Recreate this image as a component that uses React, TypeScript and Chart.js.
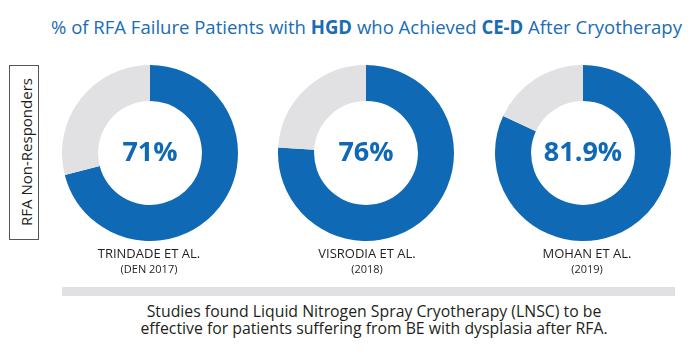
import React, { useEffect, useLayoutEffect, useRef, useState } from "react";
import { Chart, registerables } from "chart.js";

Chart.register(...registerables);

// ---- data ----
const studies = ["TRINDADE ET AL.", "VISRODIA ET AL.", "MOHAN ET AL."];
const years = ["(DEN 2017)", "(2018)", "(2019)"];
const achieved = [71, 76, 81.9];
const valueLabels = ["71%", "76%", "81.9%"];
const totals = [100, 100, 100];

const BLUE = "#0f69b4";
const GRAY = "#e1e1e3";
const TITLE_BLUE = "#1a6cb5";
const TEXT = "#231f20";
const FONT = "'Open Sans', sans-serif";

// layout
const centersX = [150, 366, 583];
const labelX = [149, 367, 587];
const centerY = 153;
const SIZE = 176;

const baselineTop = (fs: number, baseline: number) => baseline - 0.888 * fs;

function Donut({ value, total }: { value: number; total: number }) {
  const ref = useRef<HTMLCanvasElement | null>(null);
  useEffect(() => {
    if (!ref.current) return;
    const chart = new Chart(ref.current, {
      type: "doughnut",
      data: {
        labels: ["Achieved", "Not achieved"],
        datasets: [
          {
            data: [value, total - value],
            backgroundColor: [BLUE, GRAY],
            borderWidth: 0,
          },
        ],
      },
      options: {
        responsive: false,
        animation: false,
        cutout: "59%",
        events: [],
        layout: { padding: 0 },
        plugins: { legend: { display: false }, tooltip: { enabled: false } },
      },
    });
    return () => chart.destroy();
  }, [value, total]);
  return <canvas ref={ref} width={SIZE} height={SIZE} style={{ width: SIZE, height: SIZE, display: "block" }} />;
}

function FitTitle() {
  const ref = useRef<HTMLDivElement | null>(null);
  const [scale, setScale] = useState(1);
  const target = 631;
  useLayoutEffect(() => {
    if (!ref.current) return;
    const w = ref.current.getBoundingClientRect().width;
    if (w > 0) setScale(target / w);
  }, []);
  const fs = 19;
  return (
    <div
      ref={ref}
      style={{
        position: "absolute",
        left: 51,
        top: baselineTop(fs, 35),
        fontSize: fs,
        lineHeight: `${fs}px`,
        fontFamily: FONT,
        color: TITLE_BLUE,
        whiteSpace: "nowrap",
        transform: `scaleX(${scale})`,
        transformOrigin: "left top",
      }}
    >
      % of RFA Failure Patients with <b>HGD</b> who Achieved <b>CE-D</b> After Cryotherapy
    </div>
  );
}

export default function App() {
  return (
    <div
      style={{
        position: "absolute",
        left: 0,
        top: 0,
        width: 700,
        height: 363,
        background: "#fff",
        fontFamily: FONT,
        overflow: "hidden",
      }}
    >
      <FitTitle />

      {/* left box */}
      <div
        style={{
          position: "absolute",
          left: 9,
          top: 65,
          width: 30,
          height: 175,
          border: "1px solid #555",
          boxSizing: "border-box",
        }}
      />
      <div
        style={{
          position: "absolute",
          left: 25.7,
          top: 151.5,
          fontSize: 15,
          lineHeight: "15px",
          color: TEXT,
          whiteSpace: "nowrap",
          transform: "translate(-50%, -50%) rotate(-90deg)",
        }}
      >
        RFA Non-Responders
      </div>

      {achieved.map((v, i) => (
        <React.Fragment key={i}>
          <div style={{ position: "absolute", left: centersX[i] - SIZE / 2, top: centerY - SIZE / 2 }}>
            <Donut value={v} total={totals[i]} />
          </div>
          <div
            style={{
              position: "absolute",
              left: centersX[i],
              top: baselineTop(27, 161),
              fontSize: 27,
              lineHeight: "27px",
              fontWeight: 700,
              color: BLUE,
              whiteSpace: "nowrap",
              transform: "translateX(-50%)",
            }}
          >
            {valueLabels[i]}
          </div>
          <div
            style={{
              position: "absolute",
              left: labelX[i],
              top: baselineTop(13, 259),
              fontSize: 13,
              lineHeight: "13px",
              color: TEXT,
              whiteSpace: "nowrap",
              transform: "translateX(-50%)",
            }}
          >
            {studies[i]}
          </div>
          <div
            style={{
              position: "absolute",
              left: labelX[i],
              top: baselineTop(11, 273),
              fontSize: 11,
              lineHeight: "11px",
              color: TEXT,
              whiteSpace: "nowrap",
              transform: "translateX(-50%)",
            }}
          >
            {years[i]}
          </div>
        </React.Fragment>
      ))}

      {/* gray bar */}
      <div style={{ position: "absolute", left: 62, top: 287, width: 613, height: 9, background: GRAY }} />

      {/* bottom text */}
      <div
        style={{
          position: "absolute",
          left: 374,
          top: baselineTop(15.8, 316.8),
          fontSize: 15.8,
          lineHeight: "17.5px",
          color: TEXT,
          whiteSpace: "nowrap",
          textAlign: "center",
          transform: "translateX(-50%)",
        }}
      >
        Studies found Liquid Nitrogen Spray Cryotherapy (LNSC) to be
        <br />
        effective for patients suffering from BE with dysplasia after RFA.
      </div>
    </div>
  );
}
